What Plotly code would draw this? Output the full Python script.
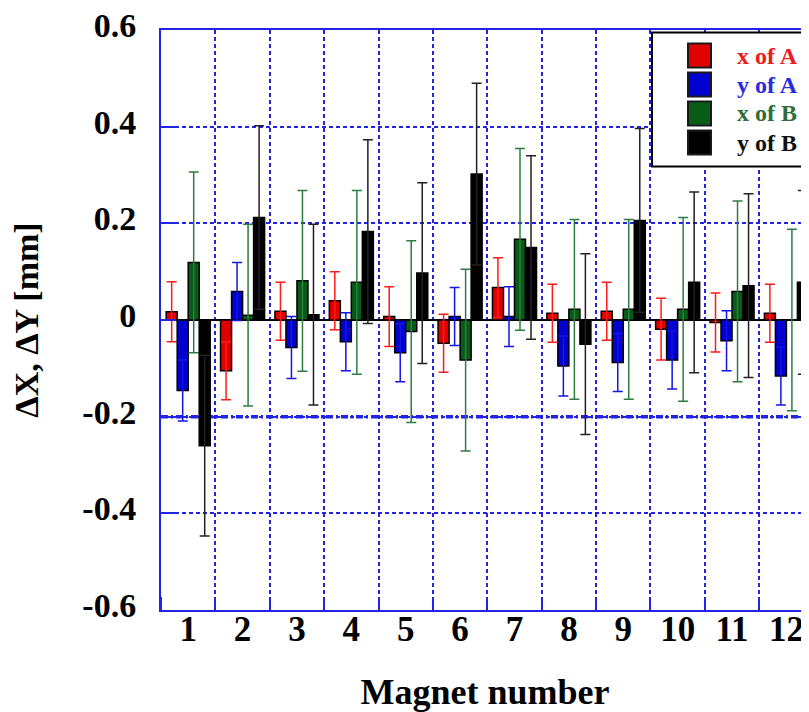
import plotly.graph_objects as go

magnets = list(range(1, 13))
tick_labels = [str(m) for m in magnets]

series_names = ["x of A", "y of A", "x of B", "y of B"]
x_of_A = [0.017, -0.105, 0.018, 0.040, 0.007, -0.048, 0.067, 0.014, 0.018, -0.019, -0.005, 0.014]
x_of_A_err = [0.062, 0.060, 0.060, 0.060, 0.062, 0.060, 0.062, 0.060, 0.060, 0.064, 0.061, 0.060]
y_of_A = [-0.146, 0.059, -0.057, -0.045, -0.068, 0.007, 0.007, -0.095, -0.088, -0.083, -0.043, -0.116]
y_of_A_err = [0.063, 0.060, 0.064, 0.060, 0.060, 0.060, 0.062, 0.062, 0.060, 0.060, 0.062, 0.060]
x_of_B = [0.119, 0.010, 0.081, 0.078, -0.024, -0.083, 0.167, 0.022, 0.022, 0.022, 0.059, 0.0]
x_of_B_err = [0.187, 0.188, 0.187, 0.190, 0.188, 0.188, 0.188, 0.186, 0.186, 0.190, 0.187, 0.188]
y_of_B = [-0.260, 0.212, 0.011, 0.183, 0.097, 0.302, 0.150, -0.050, 0.206, 0.078, 0.071, 0.078]
y_of_B_err = [0.187, 0.190, 0.187, 0.190, 0.187, 0.188, 0.190, 0.187, 0.190, 0.187, 0.190, 0.190]

values = [x_of_A, y_of_A, x_of_B, y_of_B]
errors = [x_of_A_err, y_of_A_err, x_of_B_err, y_of_B_err]
bar_colors = ["#e00000", "#0000d0", "#085c18", "#000000"]
err_colors = ["#ff1a1a", "#1414e6", "#2e7d40", "#222222"]
text_colors = ["#ee1c1c", "#2a2ae0", "#2f6e3a", "#111111"]

FONT = "Liberation Serif"
GRID = "#2323e6"
OFF = 8  # page body margin: the figure starts 8 px in from the window corner
W, H = 809 - OFF, 712 - OFF
L, R, T, B = 161 - OFF, 0, 30 - OFF, 102
plot_w = W - L - R
plot_h = H - T - B


def px_x(p):
    """window pixel x -> paper coordinate"""
    return (p - OFF - L) / plot_w


def px_y(p):
    """window pixel y -> paper coordinate"""
    return (H - B - (p - OFF)) / plot_h


fig = go.Figure()
for name, vals, errs, bc, ec in zip(series_names, values, errors, bar_colors, err_colors):
    fig.add_trace(go.Bar(
        x=magnets, y=vals, name=name, showlegend=False,
        marker=dict(color=bc, line=dict(color="#000000", width=1.5)),
        error_y=dict(type="data", array=errs, visible=True, color=ec, thickness=1.5, width=5),
    ))

# thick reference line at -0.2
fig.add_shape(type="line", xref="paper", yref="y", x0=0, x1=1, y0=-0.2, y1=-0.2,
              line=dict(color=GRID, width=3.5, dash="7px,3px,2px,3px"), layer="below")

# legend box drawn manually (large swatches as in the reference)
fig.add_shape(type="rect", xref="paper", yref="paper",
              x0=px_x(652), x1=px_x(830), y0=px_y(166.5), y1=px_y(32.5),
              line=dict(color="#000000", width=2), fillcolor="white", layer="above")
row_centers = [55.5, 84.5, 113.5, 142.5]
for name, bc, tc, yc in zip(series_names, bar_colors, text_colors, row_centers):
    fig.add_shape(type="rect", xref="paper", yref="paper",
                  x0=px_x(688), x1=px_x(711), y0=px_y(yc + 12), y1=px_y(yc - 12),
                  line=dict(color="#1a1a1a", width=2), fillcolor=bc, layer="above")
    fig.add_annotation(xref="paper", yref="paper", x=px_x(735), y=px_y(yc),
                       xanchor="left", yanchor="middle", showarrow=False, text=name,
                       font=dict(family=FONT, size=24, color=tc, weight="bold"))

fig.update_layout(
    width=W, height=H,
    margin=dict(l=L, r=R, t=T, b=B, autoexpand=False),
    paper_bgcolor="white", plot_bgcolor="white",
    barmode="group", bargap=0.19, bargroupgap=0.0,
    showlegend=False,
    font=dict(family=FONT, color="#000000"),
)

fig.update_xaxes(
    range=[0.5, 12.5 - (813.6 - 809) / 54.38],
    tickmode="array", tickvals=magnets, ticktext=tick_labels,
    ticks="", ticklen=0, showgrid=False, zeroline=False,
    tickfont=dict(family=FONT, size=35, color="#000000", weight="bold"),
    ticklabelstandoff=-13, ticklabeloverflow="allow",
    showline=True, linecolor=GRID, linewidth=2, mirror=True,
    minor=dict(tick0=0.5, dtick=1, ticks="inside", ticklen=13, tickcolor=GRID, tickwidth=1.5,
               showgrid=True, gridcolor=GRID, gridwidth=1.5, griddash="4px,3px"),
    title=dict(text="Magnet number", standoff=34,
               font=dict(family=FONT, size=36, color="#000000", weight="bold")),
    automargin=False,
)

fig.update_yaxes(
    range=[-0.6, 0.6],
    tickmode="array", tickvals=[-0.6, -0.4, -0.2, 0, 0.2, 0.4, 0.6],
    ticktext=["-0.6", "-0.4", "-0.2", "0", "0.2", "0.4", "0.6"],
    ticks="inside", ticklen=15, tickcolor=GRID, tickwidth=1.5,
    showgrid=True, gridcolor=GRID, gridwidth=1.5, griddash="4px,3px",
    zeroline=True, zerolinecolor="#000000", zerolinewidth=2,
    tickfont=dict(family=FONT, size=34, color="#000000", weight="bold"),
    ticklabelstandoff=16, ticklabelshift=-5, ticklabeloverflow="allow",
    showline=True, linecolor=GRID, linewidth=2, mirror=False,
    title=dict(text="ΔX, ΔY [mm]", standoff=38,
               font=dict(family=FONT, size=34, color="#000000", weight="bold")),
    automargin=False,
)

fig.write_html("out.html")
